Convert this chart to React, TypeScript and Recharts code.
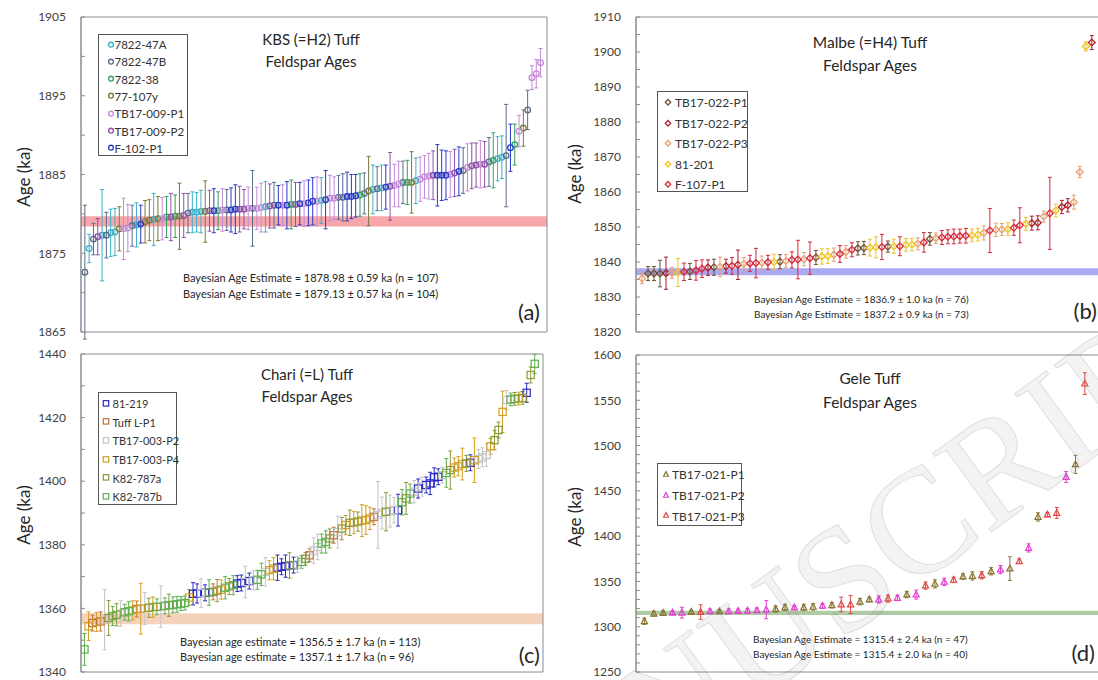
import React from "react"
import { ScatterChart, Scatter, XAxis, YAxis, ErrorBar, ReferenceArea, Legend } from "recharts"

// ---- (a) KBS (=H2) Tuff ----
const kbsNames = ["7822-47A", "7822-47B", "7822-38", "77-107y", "TB17-009-P1", "TB17-009-P2", "F-102-P1"]
const kbsColors = ["#3ab0c8", "#5b6b8c", "#30a060", "#7a7a3a", "#c38bd6", "#8e50a8", "#2a3ac8"]
const kbsTicks = [1865, 1870, 1875, 1880, 1885, 1890, 1895, 1900, 1905]
const kbsAge = [
  1872.6, 1875.6, 1876.8, 1877.1, 1877.3, 1877.3, 1877.6, 1877.7, 1878.1, 1878.1,
  1878.2, 1878.5, 1878.6, 1878.7, 1879.0, 1879.2, 1879.3, 1879.4, 1879.4, 1879.6,
  1879.6, 1879.7, 1879.7, 1879.8, 1880.1, 1880.2, 1880.2, 1880.3, 1880.3, 1880.4,
  1880.4, 1880.4, 1880.5, 1880.5, 1880.5, 1880.6, 1880.6, 1880.6, 1880.7, 1880.7,
  1880.7, 1880.8, 1880.9, 1881.0, 1881.1, 1881.1, 1881.1, 1881.1, 1881.2, 1881.2,
  1881.3, 1881.3, 1881.4, 1881.6, 1881.6, 1881.7, 1881.8, 1882.0, 1882.0, 1882.1,
  1882.1, 1882.2, 1882.2, 1882.3, 1882.4, 1882.6, 1882.9, 1883.1, 1883.2, 1883.3,
  1883.4, 1883.5, 1883.6, 1883.8, 1884.0, 1884.0, 1884.0, 1884.2, 1884.4, 1884.7,
  1884.8, 1884.9, 1884.9, 1884.9, 1884.9, 1885.0, 1885.2, 1885.4, 1885.5, 1885.9,
  1886.1, 1886.2, 1886.3, 1886.3, 1886.6, 1886.8, 1887.0, 1887.2, 1887.4, 1888.4,
  1888.8, 1890.5, 1890.9, 1893.2, 1897.3, 1897.8, 1899.2,
]
const kbsErr = [
  8.5, 1.8, 2.0, 2.3, 5.8, 2.9, 3.0, 3.0, 2.8, 3.9,
  3.0, 2.6, 2.8, 2.4, 2.7, 2.6, 3.3, 2.8, 2.7, 2.6,
  3.0, 2.7, 4.2, 2.8, 2.5, 2.6, 2.5, 2.7, 3.9, 2.6,
  2.8, 2.4, 2.7, 2.6, 2.8, 3.1, 2.9, 2.5, 2.7, 4.8,
  2.7, 3.1, 3.2, 2.8, 2.9, 2.5, 2.6, 3.0, 3.1, 2.8,
  2.7, 2.9, 2.9, 3.0, 3.1, 2.9, 3.7, 2.9, 2.7, 2.8,
  3.0, 3.1, 2.8, 2.7, 2.7, 2.6, 4.4, 3.1, 2.8, 2.9,
  2.8, 4.3, 2.7, 2.9, 2.7, 2.8, 3.9, 2.9, 2.8, 2.7,
  2.9, 3.1, 3.9, 3.2, 3.1, 2.9, 3.0, 3.1, 2.9, 3.0,
  2.9, 2.8, 3.0, 2.9, 3.1, 3.5, 2.8, 2.7, 6.5, 3.0,
  2.6, 2.0, 2.3, 2.5, 1.5, 1.8, 1.8,
]
const kbsSample = [
  1, 0, 1, 5, 0, 1, 0, 0, 3, 4,
  4, 1, 0, 6, 3, 3, 0, 3, 4, 2,
  5, 2, 3, 5, 1, 0, 0, 0, 3, 5,
  6, 2, 4, 1, 6, 6, 5, 5, 4, 1,
  4, 4, 0, 5, 1, 6, 4, 6, 2, 5,
  6, 4, 6, 6, 4, 0, 6, 4, 4, 1,
  1, 6, 6, 6, 2, 1, 3, 0, 1, 0,
  6, 5, 4, 4, 1, 2, 3, 0, 4, 4,
  4, 5, 6, 6, 6, 4, 5, 6, 1, 4,
  5, 5, 4, 5, 1, 2, 0, 0, 1, 6,
  2, 4, 3, 1, 4, 4, 4,
]

// ---- (b) Malbe (=H4) Tuff ----
const malbeNames = ["TB17-022-P1", "TB17-022-P2", "TB17-022-P3", "81-201", "F-107-P1"]
const malbeColors = ["#705030", "#b01c28", "#e8a070", "#f2c41c", "#d8283c"]
const malbeTicks = [1820, 1825, 1830, 1835, 1840, 1845, 1850, 1855, 1860, 1865, 1870, 1875, 1880, 1885, 1890, 1895, 1900, 1905, 1910]
const malbeAge = [
  1835.3, 1836.7, 1836.7, 1836.7, 1836.8, 1836.9, 1837.0, 1837.2, 1837.3, 1837.6,
  1838.1, 1838.4, 1838.5, 1838.6, 1838.8, 1838.9, 1839.2, 1839.5, 1839.6, 1839.7,
  1839.8, 1839.9, 1840.0, 1840.1, 1840.3, 1840.6, 1840.7, 1840.8, 1841.1, 1841.3,
  1841.6, 1841.7, 1842.1, 1842.3, 1842.9, 1843.5, 1843.9, 1844.0, 1844.1, 1844.2,
  1844.3, 1844.4, 1844.5, 1844.5, 1844.9, 1845.0, 1845.2, 1845.6, 1846.6, 1846.8,
  1847.0, 1847.2, 1847.3, 1847.4, 1847.5, 1847.6, 1847.8, 1848.3, 1849.0, 1849.2,
  1849.3, 1849.4, 1849.8, 1850.5, 1850.9, 1851.1, 1851.2, 1853.0, 1853.9, 1854.7,
  1855.7, 1856.2, 1857.1, 1865.7, 1901.6, 1902.7,
]
const malbeErr = [
  1.5, 2.0, 2.0, 3.8, 4.6, 1.6, 4.0, 2.5, 2.3, 2.8,
  2.5, 2.2, 2.3, 2.8, 2.0, 2.4, 4.2, 1.8, 2.3, 4.2,
  1.9, 2.0, 2.2, 2.0, 1.8, 2.3, 5.5, 1.9, 4.6, 2.0,
  2.2, 2.1, 1.9, 2.4, 1.8, 2.0, 1.9, 1.9, 2.4, 3.0,
  3.6, 1.6, 2.0, 2.7, 1.8, 1.8, 1.7, 2.8, 1.8, 1.5,
  2.0, 2.0, 2.1, 2.0, 2.1, 1.8, 1.8, 2.0, 6.3, 1.9,
  1.7, 1.8, 2.2, 5.0, 1.8, 2.0, 2.0, 1.6, 10.3, 1.8,
  1.9, 1.9, 2.0, 1.6, 1.3, 2.0,
]
const malbeSample = [
  2, 0, 0, 0, 1, 2, 3, 4, 0, 4,
  4, 1, 0, 2, 1, 4, 1, 2, 4, 4,
  2, 4, 3, 0, 2, 4, 4, 2, 4, 0,
  3, 3, 2, 4, 2, 4, 0, 0, 3, 3,
  4, 0, 3, 4, 3, 3, 2, 4, 0, 2,
  4, 4, 4, 4, 4, 3, 3, 2, 4, 2,
  2, 3, 4, 4, 3, 1, 1, 2, 4, 3,
  1, 1, 2, 2, 3, 1,
]

// ---- (c) Chari (=L) Tuff ----
const chariNames = ["81-219", "Tuff L-P1", "TB17-003-P2", "TB17-003-P4", "K82-787a", "K82-787b"]
const chariColors = ["#2828c8", "#c0703a", "#c4c4c4", "#d4a020", "#8a9a3a", "#5cb050"]
const chariTicks = [1340, 1350, 1360, 1370, 1380, 1390, 1400, 1410, 1420, 1430, 1440]
const chariAge = [
  1347.1, 1354.4, 1355.4, 1355.7, 1355.9, 1356.5, 1357.0, 1357.6, 1358.0, 1358.4,
  1358.8, 1359.1, 1359.4, 1359.8, 1359.9, 1360.0, 1360.2, 1360.4, 1360.5, 1360.6,
  1360.8, 1361.0, 1361.1, 1361.3, 1361.5, 1361.7, 1363.4, 1364.6, 1364.7, 1364.8,
  1364.9, 1365.0, 1365.2, 1365.6, 1365.9, 1366.5, 1366.9, 1367.3, 1367.8, 1368.0,
  1368.3, 1368.6, 1368.8, 1369.0, 1370.7, 1371.5, 1372.0, 1372.5, 1372.8, 1373.1,
  1373.3, 1373.5, 1373.6, 1373.8, 1374.6, 1375.6, 1376.7, 1378.2, 1379.3, 1380.4,
  1380.9, 1382.0, 1383.0, 1384.0, 1385.1, 1386.2, 1386.9, 1387.0, 1387.3, 1387.6,
  1387.8, 1388.3, 1388.8, 1389.4, 1390.0, 1390.4, 1390.6, 1390.9, 1390.9, 1393.4,
  1394.6, 1396.1, 1396.7, 1397.7, 1398.3, 1398.8, 1399.3, 1401.2, 1401.4, 1401.9,
  1402.6, 1403.5, 1404.3, 1404.7, 1405.4, 1405.6, 1405.8, 1406.6, 1407.0, 1407.5,
  1408.2, 1411.0, 1412.9, 1416.1, 1421.8, 1425.5, 1425.7, 1425.9, 1426.0, 1426.2,
  1427.8, 1433.4, 1436.9,
]
const chariErr = [
  5.0, 4.5, 2.5, 3.0, 3.0, 9.5, 5.5, 3.0, 3.5, 4.0,
  2.5, 3.0, 3.0, 2.5, 8.0, 5.0, 3.0, 3.2, 2.5, 6.5,
  2.5, 3.5, 2.5, 2.5, 2.2, 2.2, 2.5, 3.5, 3.0, 4.5,
  2.5, 4.0, 2.5, 3.5, 3.0, 3.5, 2.5, 3.0, 2.5, 2.5,
  5.0, 2.5, 3.0, 3.0, 3.5, 4.5, 3.0, 3.5, 4.0, 2.5,
  3.5, 4.0, 2.5, 2.5, 2.0, 2.0, 2.0, 4.0, 4.0, 3.0,
  3.5, 3.0, 2.5, 5.0, 3.5, 3.0, 4.0, 3.5, 3.0, 5.0,
  4.5, 3.5, 2.5, 10.5, 5.0, 6.0, 5.0, 4.0, 5.0, 4.0,
  5.0, 3.0, 3.5, 3.0, 3.0, 2.5, 3.5, 3.0, 2.5, 2.5,
  4.5, 6.0, 3.0, 3.0, 5.0, 2.5, 2.5, 7.0, 3.0, 3.0,
  3.5, 2.5, 3.0, 2.5, 6.5, 3.0, 2.0, 2.0, 2.0, 2.0,
  3.0, 2.5, 3.0,
]
const chariSample = [
  5, 3, 1, 3, 1, 2, 4, 5, 4, 2,
  5, 5, 3, 1, 3, 2, 4, 3, 5, 2,
  5, 4, 5, 5, 5, 5, 3, 0, 0, 2,
  0, 5, 1, 4, 3, 5, 4, 5, 0, 0,
  2, 0, 2, 5, 5, 2, 3, 3, 0, 0,
  0, 4, 0, 2, 5, 4, 1, 2, 2, 5,
  5, 4, 1, 2, 4, 3, 4, 3, 4, 3,
  3, 3, 1, 2, 2, 4, 2, 2, 0, 5,
  4, 5, 2, 0, 2, 0, 0, 0, 0, 2,
  5, 4, 3, 3, 3, 4, 0, 3, 2, 2,
  2, 3, 4, 4, 3, 2, 5, 4, 3, 4,
  0, 4, 5,
]

// ---- (d) Gele Tuff ----
const geleNames = ["TB17-021-P1", "TB17-021-P2", "TB17-021-P3"]
const geleColors = ["#8a7530", "#e040d0", "#e04848"]
const geleTicks = [
  1250, 1260, 1270, 1280, 1290, 1300, 1310, 1320, 1330, 1340, 1350, 1360, 1370, 1380, 1390, 1400, 1410, 1420,
  1430, 1440, 1450, 1460, 1470, 1480, 1490, 1500, 1510, 1520, 1530, 1540, 1550, 1560, 1570, 1580, 1590, 1600,
]
const geleAge = [
  1306.0, 1314.4, 1315.1, 1315.5, 1315.5, 1316.2, 1316.2, 1317.0, 1317.0, 1317.0,
  1317.3, 1317.7, 1318.1, 1318.8, 1319.5, 1321.2, 1321.2, 1321.2, 1321.9, 1323.0,
  1323.7, 1324.6, 1324.6, 1327.6, 1330.0, 1330.0, 1331.1, 1331.8, 1335.5, 1335.5,
  1345.4, 1347.3, 1349.5, 1351.7, 1355.4, 1356.1, 1356.8, 1361.2, 1363.1, 1364.2,
  1372.3, 1387.0, 1421.2, 1423.8, 1425.6, 1465.3, 1479.3, 1568.4,
]
const geleErr = [
  3.5, 2.5, 2.5, 2.0, 6.0, 2.0, 8.0, 2.5, 2.0, 2.5,
  2.0, 2.5, 2.5, 10.0, 3.5, 3.5, 2.0, 3.5, 3.5, 2.5,
  3.0, 8.0, 10.0, 3.5, 2.5, 4.0, 4.0, 3.0, 3.5, 5.0,
  4.0, 4.5, 4.0, 3.0, 3.0, 4.5, 4.0, 4.0, 4.5, 13.0,
  2.5, 4.5, 4.5, 2.5, 6.0, 6.0, 10.0, 12.0,
]
const geleSample = [
  0, 0, 0, 1, 1, 0, 2, 1, 0, 1,
  1, 1, 1, 1, 0, 0, 1, 0, 0, 1,
  0, 2, 2, 0, 0, 1, 2, 1, 0, 1,
  2, 0, 1, 2, 0, 0, 2, 0, 1, 0,
  2, 1, 0, 2, 2, 1, 0, 2,
]

const FONT = "Lato, 'Open Sans', sans-serif"
const TEXT = "#262626"

type Kind = "circle" | "diamond" | "square" | "triangle"

function Marker({ kind, cx, cy, color, s = 1 }: { kind: Kind; cx?: number; cy?: number; color: string; s?: number }) {
  if (typeof cx !== "number" || typeof cy !== "number") return null
  if (kind === "circle")
    return <circle cx={cx} cy={cy} r={2.8 * s} fill="none" stroke={color} strokeWidth={1.3} />
  if (kind === "diamond") {
    const d = 3.4 * s
    return <polygon points={`${cx},${cy - d} ${cx + d},${cy} ${cx},${cy + d} ${cx - d},${cy}`} fill="none" stroke={color} strokeWidth={1.3} />
  }
  if (kind === "square") {
    const h = 3.6 * s
    return <rect x={cx - h} y={cy - h} width={2 * h} height={2 * h} fill="none" stroke={color} strokeWidth={1.2} />
  }
  const t = 3.4 * s
  return <polygon points={`${cx},${cy - t} ${cx + t * 0.9},${cy + t * 0.7} ${cx - t * 0.9},${cy + t * 0.7}`} fill="none" stroke={color} strokeWidth={1.2} />
}

function buildSeries(ages: number[], errs: number[], samples: number[], n: number) {
  const all = ages.map((y, i) => ({ x: i + 1, y, err: errs[i], s: samples[i] }))
  return Array.from({ length: n }, (_, k) => all.filter((p) => p.s === k))
}

interface LegendBox { x: number; y: number; w: number; h: number; rowH: number; padTop: number; markerX: number; textX: number; fontSize: number; markerScale: number }

interface PanelProps {
  left: number; top: number; width: number; height: number
  margin: { top: number; right: number; bottom: number; left: number }
  axisWidth: number
  xDomain: [number, number]; yDomain: [number, number]
  ticks: number[]; labelEvery: number
  ages: number[]; errs: number[]; samples: number[]
  names: string[]; colors: string[]; kind: Kind
  band: [number, number]; bandColor: string
  legend: LegendBox
}

function Panel(p: PanelProps) {
  const series = buildSeries(p.ages, p.errs, p.samples, p.names.length)
  const fmt = (v: number) => ((v - p.yDomain[0]) % p.labelEvery === 0 ? String(v) : "")
  const lg = p.legend
  return (
    <div style={{ position: "absolute", left: p.left, top: p.top, width: p.width, height: p.height }}>
      <ScatterChart width={p.width} height={p.height} margin={p.margin}>
        <XAxis type="number" dataKey="x" domain={p.xDomain} allowDataOverflow hide />
        <YAxis
          type="number"
          dataKey="y"
          domain={p.yDomain}
          allowDataOverflow
          ticks={p.ticks}
          interval={0}
          width={p.axisWidth}
          tickFormatter={fmt}
          tickSize={-4}
          tickMargin={19}
          axisLine={{ stroke: "#8c8c8c" }}
          tickLine={{ stroke: "#8c8c8c" }}
          tick={{ fill: "#404040", fontSize: 12, fontFamily: FONT }}
        />
        <ReferenceArea y1={p.band[0]} y2={p.band[1]} fill={p.bandColor} fillOpacity={1} stroke="none" />
        {series.map((data, k) => (
          <Scatter
            key={p.names[k]}
            name={p.names[k]}
            data={data}
            fill={p.colors[k]}
            isAnimationActive={false}
            shape={(sp: any) => <Marker kind={p.kind} cx={sp.cx} cy={sp.cy} color={p.colors[k]} />}
          >
            <ErrorBar dataKey="err" direction="y" width={2} strokeWidth={1} stroke={p.colors[k]} />
          </Scatter>
        ))}
        <ReferenceArea x1={p.xDomain[0]} x2={p.xDomain[1]} y1={p.yDomain[0]} y2={p.yDomain[1]} fill="none" stroke="#8c8c8c" />
        <Legend
          layout="vertical"
          align="center"
          verticalAlign="middle"
          wrapperStyle={{ left: lg.x - p.left, top: lg.y - p.top, width: lg.w, height: lg.h }}
          content={() => (
            <div style={{ boxSizing: "border-box", width: lg.w, height: lg.h, border: "1px solid #555", background: "#fff", paddingTop: lg.padTop }}>
              {p.names.map((name, k) => (
                <div key={name} style={{ position: "relative", height: lg.rowH, fontFamily: FONT, fontSize: lg.fontSize, color: "#333" }}>
                  <svg width={12} height={lg.rowH} style={{ position: "absolute", left: lg.markerX - 6, top: 0 }}>
                    <Marker kind={p.kind} cx={6} cy={lg.rowH / 2} color={p.colors[k]} s={lg.markerScale} />
                  </svg>
                  <span style={{ position: "absolute", left: lg.textX, top: "50%", transform: "translateY(-50%)", whiteSpace: "nowrap" }}>{name}</span>
                </div>
              ))}
            </div>
          )}
        />
      </ScatterChart>
    </div>
  )
}

function T({ x, y, size, align = "center", children }: { x: number; y: number; size: number; align?: "center" | "start" | "end"; children: React.ReactNode }) {
  const tx = align === "center" ? "-50%" : align === "end" ? "-100%" : "0"
  return (
    <div style={{ position: "absolute", left: x, top: y, transform: `translate(${tx}, -50%)`, fontFamily: FONT, fontSize: size, color: TEXT, whiteSpace: "nowrap", lineHeight: 1 }}>
      {children}
    </div>
  )
}

function YTitle({ x, y }: { x: number; y: number }) {
  return (
    <div style={{ position: "absolute", left: x, top: y, transform: "translate(-50%, -50%) rotate(-90deg)", fontFamily: FONT, fontSize: 17, color: TEXT, whiteSpace: "nowrap", lineHeight: 1 }}>
      Age (ka)
    </div>
  )
}

export default function App() {
  return (
    <div style={{ position: "absolute", left: 0, top: 0, width: 1098, height: 680, overflow: "hidden", background: "#fff" }}>
      <Panel
        left={0} top={0} width={550} height={340}
        margin={{ top: 17, right: 3, bottom: 8, left: 0 }} axisWidth={81}
        xDomain={[0.1, 108.5]} yDomain={[1865, 1905]} ticks={kbsTicks} labelEvery={10}
        ages={kbsAge} errs={kbsErr} samples={kbsSample}
        names={kbsNames} colors={kbsColors} kind="circle"
        band={[1878.4, 1879.7]} bandColor="#f7a6aa"
        legend={{ x: 97.5, y: 34, w: 90, h: 122, rowH: 17.3, padTop: 0.5, markerX: 12.5, textX: 16, fontSize: 11.5, markerScale: 0.85 }}
      />
      <Panel
        left={550} top={0} width={552} height={340}
        margin={{ top: 17, right: 0, bottom: 8, left: 0 }} axisWidth={86}
        xDomain={[0, 77.7]} yDomain={[1820, 1910]} ticks={malbeTicks} labelEvery={10}
        ages={malbeAge} errs={malbeErr} samples={malbeSample}
        names={malbeNames} colors={malbeColors} kind="diamond"
        band={[1836.2, 1838.2]} bandColor="#aaaaf2"
        legend={{ x: 657, y: 91, w: 91, h: 101, rowH: 20.5, padTop: 0, markerX: 10, textX: 17, fontSize: 12, markerScale: 0.8 }}
      />
      <Panel
        left={0} top={340} width={550} height={340}
        margin={{ top: 14, right: 7, bottom: 8, left: 0 }} axisWidth={81}
        xDomain={[0.13, 115.06]} yDomain={[1340, 1440]} ticks={chariTicks} labelEvery={20}
        ages={chariAge} errs={chariErr} samples={chariSample}
        names={chariNames} colors={chariColors} kind="square"
        band={[1355, 1358.5]} bandColor="#f5d2bc"
        legend={{ x: 97.5, y: 392, w: 79, h: 113, rowH: 18.7, padTop: 0.5, markerX: 7.5, textX: 14, fontSize: 11, markerScale: 0.75 }}
      />
      <Panel
        left={550} top={340} width={552} height={340}
        margin={{ top: 15, right: 0, bottom: 8, left: 0 }} axisWidth={86}
        xDomain={[0.1, 49.83]} yDomain={[1250, 1600]} ticks={geleTicks} labelEvery={50}
        ages={geleAge} errs={geleErr} samples={geleSample}
        names={geleNames} colors={geleColors} kind="triangle"
        band={[1312.8, 1317.5]} bandColor="#aecba4"
        legend={{ x: 657, y: 463, w: 85, h: 63, rowH: 20.7, padTop: 0, markerX: 8, textX: 14, fontSize: 12, markerScale: 0.8 }}
      />

      <YTitle x={23} y={177} />
      <YTitle x={574} y={174} />
      <YTitle x={23} y={515} />
      <YTitle x={574} y={517} />

      <T x={311} y={39} size={15}>KBS (=H2) Tuff</T>
      <T x={311} y={61} size={15}>Feldspar Ages</T>
      <T x={870} y={43} size={15.5}>Malbe (=H4) Tuff</T>
      <T x={870} y={66} size={15.5}>Feldspar Ages</T>
      <T x={307} y={374} size={15}>Chari (=L) Tuff</T>
      <T x={307} y={396} size={15}>Feldspar Ages</T>
      <T x={870} y={379} size={15.5}>Gele Tuff</T>
      <T x={870} y={403} size={15.5}>Feldspar Ages</T>

      <T x={183} y={277} size={11} align="start">Bayesian Age Estimate = 1878.98 ± 0.59 ka (n = 107)</T>
      <T x={183} y={293} size={11} align="start">Bayesian Age Estimate = 1879.13 ± 0.57 ka (n = 104)</T>
      <T x={754} y={299} size={10} align="start">Bayesian Age Estimate = 1836.9 ± 1.0 ka (n = 76)</T>
      <T x={754} y={314} size={10} align="start">Bayesian Age Estimate = 1837.2 ± 0.9 ka (n = 73)</T>
      <T x={180} y={641} size={11} align="start">Bayesian age estimate = 1356.5 ± 1.7 ka (n = 113)</T>
      <T x={180} y={656} size={11} align="start">Bayesian age estimate = 1357.1 ± 1.7 ka (n = 96)</T>
      <T x={753} y={639} size={10} align="start">Bayesian Age Estimate = 1315.4 ± 2.4 ka (n = 47)</T>
      <T x={753} y={654} size={10} align="start">Bayesian Age Estimate = 1315.4 ± 2.0 ka (n = 40)</T>

      <T x={540} y={312} size={22} align="end">(a)</T>
      <T x={1097} y={311} size={22} align="end">(b)</T>
      <T x={540} y={655} size={22} align="end">(c)</T>
      <T x={1095} y={653} size={22} align="end">(d)</T>

      <div
        style={{
          position: "absolute", left: 829, top: 587,
          transform: "translate(-50%, -50%) rotate(-36deg)",
          fontFamily: "'Liberation Serif', 'DejaVu Serif', serif", fontSize: 150, lineHeight: 1,
          color: "rgba(120,120,120,0.09)", WebkitTextStroke: "1px rgba(120,120,120,0.2)",
          whiteSpace: "nowrap", pointerEvents: "none",
        }}
      >
        MANUSCRIPT
      </div>
    </div>
  )
}
